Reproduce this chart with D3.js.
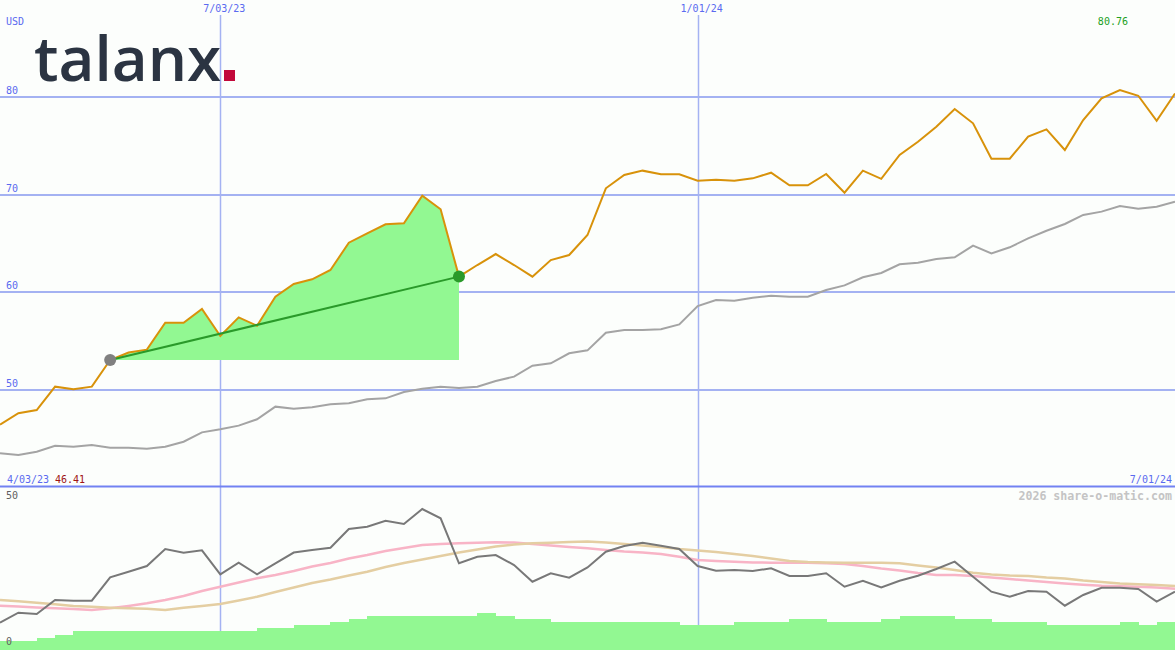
<!DOCTYPE html>
<html>
<head>
<meta charset="utf-8">
<script src="https://cdn.jsdelivr.net/npm/d3@7/dist/d3.min.js"></script>
<style>
  html, body { margin: 0; padding: 0; background: #fcfefc; }
  svg { display: block; }
</style>
</head>
<body>
<svg id="chart" width="1175" height="650"></svg>
<script>
// ---------- data ----------
const startDate = "2023-04-10";      // first weekly observation
const weeks = 65;
const price = [46.41,47.57,47.9,50.3,50.03,50.3,53.04,53.8,54.1,56.87,56.87,58.28,55.5,57.42,56.56,59.54,60.84,
  61.32,62.28,65.08,66.04,66.97,67.07,69.9,68.51,61.6,62.79,63.92,62.79,61.59,63.3,63.82,65.87,
  70.67,72.03,72.48,72.1,72.1,71.45,71.55,71.45,71.69,72.27,70.97,70.97,72.14,70.22,72.48,71.64,
  74.09,75.45,76.99,78.81,77.34,73.71,73.71,75.97,76.72,74.6,77.68,79.9,80.76,80.17,77.6,80.4];
const benchmark = [43.46,43.29,43.62,44.24,44.14,44.31,44.04,44.04,43.93,44.14,44.65,45.61,45.92,46.3,46.95,48.25,48.04,
  48.2,48.5,48.6,49.0,49.1,49.75,50.09,50.3,50.16,50.3,50.88,51.33,52.45,52.7,53.73,54.03,
  55.84,56.12,56.12,56.19,56.7,58.58,59.2,59.13,59.44,59.64,59.54,59.54,60.23,60.7,61.53,61.97,
  62.86,63.03,63.41,63.58,64.78,63.99,64.61,65.53,66.31,67.0,67.93,68.27,68.85,68.57,68.78,69.29];
const oscillator = [8.37,11.44,11.04,15.34,15.12,15.12,22.3,24.02,25.77,30.98,29.85,30.58,23.22,26.78,23.22,26.6,29.9,
  30.67,31.38,37.12,37.82,39.66,38.65,43.25,40.4,26.6,28.62,29.14,26.07,20.95,23.53,22.18,25.31,
  30.15,31.9,32.91,32.0,30.98,25.77,24.33,24.54,24.23,25.06,22.7,22.7,23.53,19.42,21.26,19.17,
  21.26,22.79,24.85,27.09,22.48,17.88,16.35,18.1,17.88,13.59,16.87,19.11,19.11,18.71,14.82,17.88];
const avgFast = [13.59,13.34,13.04,12.79,12.58,12.27,12.79,13.5,14.33,15.34,16.56,18.1,19.42,20.71,21.99,23.0,24.23,
  25.61,26.69,28.07,29.14,30.37,31.29,32.21,32.52,32.73,32.91,33.04,32.98,32.52,32.06,31.6,31.2,
  30.67,30.21,29.91,29.45,28.62,27.61,27.3,27.06,26.84,26.78,26.78,26.78,26.6,26.38,25.77,25.0,
  24.39,23.62,23.0,23.0,22.7,22.24,21.78,21.32,20.86,20.4,20.0,19.72,19.57,19.42,19.17,18.8];
const avgSlow = [15.34,14.94,14.51,14.02,13.5,13.25,12.98,12.82,12.67,12.27,12.98,13.5,14.11,15.18,16.35,17.79,19.17,
  20.55,21.63,22.85,24.02,25.46,26.69,27.76,28.83,29.91,30.83,31.75,32.36,32.73,32.88,33.13,33.28,
  32.98,32.52,32.06,31.6,30.98,30.52,30.06,29.45,28.83,28.07,27.3,26.99,26.84,26.78,26.78,26.78,
  26.6,25.92,25.31,24.54,23.71,23.16,22.85,22.7,22.24,21.93,21.32,20.86,20.4,20.15,19.94,19.63];
const volume = [2.76,2.76,3.6,4.6,5.83,5.83,5.83,5.83,5.83,5.83,5.83,5.83,5.83,5.83,6.84,6.84,7.67,
  7.67,8.59,9.51,10.43,10.43,10.43,10.43,10.43,10.43,11.35,10.43,9.51,9.51,8.59,8.59,8.59,
  8.59,8.59,8.59,8.59,7.67,7.67,7.67,8.59,8.59,8.59,9.51,9.51,8.59,8.59,8.59,9.51,
  10.43,10.43,10.43,9.51,9.51,8.59,8.59,8.59,7.67,7.67,7.67,7.67,8.59,7.67,8.59];
const priceTicks = [50, 60, 70, 80];
const dateTicks = ["2023-07-03", "2024-01-01"];
const dateTickLabels = ["7/03/23", "1/01/24"];
const rangeStart = 6, rangeEnd = 25;   // highlighted period (week indices)
const currency = "USD";
const firstLabel = "4/03/23", lastLabel = "7/01/24";
const maxLabel = "80.76", minLabel = "46.41";
const lowerTicks = ["50", "0"];
const credit = "2026 share-o-matic.com";
const brand = "talanx";

// ---------- setup ----------
const W = 1175, H = 650, splitY = 487;
const parse = d3.utcParse("%Y-%m-%d");
const t0 = parse(startDate);
const dates = d3.range(weeks).map(i => d3.utcWeek.offset(t0, i));
const svg = d3.select("#chart");
const mono = "'DejaVu Sans Mono', 'Liberation Mono', monospace";

const x = d3.scaleUtc().domain([dates[0], dates[weeks - 1]]).range([0, W]);
const y = d3.scaleLinear().domain([40, 90]).range([splitY, 0]);
const y2 = d3.scaleLinear().domain([0, 50]).range([H, splitY]);

svg.append("rect").attr("width", W).attr("height", H).attr("fill", "#fcfefc");

// horizontal gridlines
svg.append("g").selectAll("line").data(priceTicks).join("line")
  .attr("x1", 0).attr("x2", W)
  .attr("y1", d => Math.round(y(d))).attr("y2", d => Math.round(y(d)))
  .attr("stroke", "#a4b2f2").attr("stroke-width", 2);
svg.append("g").selectAll("text").data(priceTicks).join("text")
  .attr("x", 6).attr("y", d => Math.round(y(d)) - 3)
  .attr("font-family", mono).attr("font-size", 10).attr("fill", "#5a6af0")
  .text(d => d);

// vertical date lines (both panels)
const dt = dateTicks.map(parse);
svg.append("g").selectAll("line").data(dt).join("line")
  .attr("x1", d => Math.round(x(d)) + 0.5).attr("x2", d => Math.round(x(d)) + 0.5)
  .attr("y1", 15).attr("y2", H)
  .attr("stroke", "#a4b2f2").attr("stroke-width", 1.5);
svg.append("g").selectAll("text").data(dt).join("text")
  .attr("x", d => x(d) + 4).attr("y", 12)
  .attr("text-anchor", "middle")
  .attr("font-family", mono).attr("font-size", 10).attr("fill", "#5a6af0")
  .text((d, i) => dateTickLabels[i]);

// highlighted period area
const baseVal = price[rangeStart];
const seg = d3.range(rangeStart, rangeEnd + 1);
svg.append("path")
  .attr("d", d3.area().x(i => x(dates[i])).y0(y(baseVal)).y1(i => y(price[i]))(seg))
  .attr("fill", "#92f892");

// benchmark line
svg.append("path")
  .attr("d", d3.line().x((d, i) => x(dates[i])).y(d => y(d))(benchmark))
  .attr("fill", "none").attr("stroke", "#a4a4a4").attr("stroke-width", 2);

// price line
svg.append("path")
  .attr("d", d3.line().x((d, i) => x(dates[i])).y(d => y(d))(price))
  .attr("fill", "none").attr("stroke", "#d8920a").attr("stroke-width", 2);

// trend line
svg.append("line")
  .attr("x1", x(dates[rangeStart])).attr("y1", y(price[rangeStart]))
  .attr("x2", x(dates[rangeEnd])).attr("y2", y(price[rangeEnd]))
  .attr("stroke", "#2a9a2a").attr("stroke-width", 2);
svg.append("circle").attr("cx", x(dates[rangeStart])).attr("cy", y(price[rangeStart]))
  .attr("r", 6).attr("fill", "#808080");
svg.append("circle").attr("cx", x(dates[rangeEnd])).attr("cy", y(price[rangeEnd]))
  .attr("r", 6).attr("fill", "#2a9a2a");

// logo
svg.append("text").attr("x", 34).attr("y", 81)
  .attr("font-family", "'Open Sans', sans-serif").attr("font-weight", 600)
  .attr("font-size", 62).attr("fill", "#2b3442")
  .text(brand);
svg.append("rect").attr("x", 224).attr("y", 70).attr("width", 11).attr("height", 11).attr("fill", "#c2083a");

// labels
svg.append("text").attr("x", 6).attr("y", 25).attr("font-family", mono).attr("font-size", 10)
  .attr("fill", "#5a6af0").text(currency);
const maxI = d3.maxIndex(price);
svg.append("text").attr("x", x(dates[maxI]) - 7).attr("y", 25).attr("text-anchor", "middle")
  .attr("font-family", mono).attr("font-size", 10).attr("fill", "#22a022").text(maxLabel);
svg.append("text").attr("x", 7).attr("y", 483).attr("font-family", mono).attr("font-size", 10)
  .attr("fill", "#5a6af0").text(firstLabel);
svg.append("text").attr("x", 55).attr("y", 483).attr("font-family", mono).attr("font-size", 10)
  .attr("fill", "#a01414").text(minLabel);
svg.append("text").attr("x", 1172).attr("y", 483).attr("text-anchor", "end").attr("font-family", mono)
  .attr("font-size", 10).attr("fill", "#5a6af0").text(lastLabel);

// divider
svg.append("line").attr("x1", 0).attr("x2", W).attr("y1", splitY - 0.5).attr("y2", splitY - 0.5)
  .attr("stroke", "#7282f2").attr("stroke-width", 2);

// ---------- lower panel ----------
svg.append("g").selectAll("rect").data(volume).join("rect")
  .attr("x", (d, i) => x(dates[i]))
  .attr("width", (d, i) => x(dates[i + 1]) - x(dates[i]) + 0.5)
  .attr("y", d => y2(d)).attr("height", d => H - y2(d))
  .attr("fill", "#92f892").attr("shape-rendering", "crispEdges");

const lineLow = d3.line().x((d, i) => x(dates[i])).y(d => y2(d));
svg.append("path").attr("d", lineLow(avgFast)).attr("fill", "none")
  .attr("stroke", "#f8b4c6").attr("stroke-width", 2.5);
svg.append("path").attr("d", lineLow(avgSlow)).attr("fill", "none")
  .attr("stroke", "#e4cea2").attr("stroke-width", 2.5);
svg.append("path").attr("d", lineLow(oscillator)).attr("fill", "none")
  .attr("stroke", "#787878").attr("stroke-width", 2);

svg.append("text").attr("x", 6).attr("y", 499).attr("font-family", mono).attr("font-size", 10)
  .attr("fill", "#606060").text(lowerTicks[0]);
svg.append("text").attr("x", 6).attr("y", 645).attr("font-family", mono).attr("font-size", 10)
  .attr("fill", "#606060").text(lowerTicks[1]);
svg.append("text").attr("x", 1172).attr("y", 500).attr("text-anchor", "end")
  .attr("font-family", mono).attr("font-size", 11.6).attr("font-weight", "bold")
  .attr("fill", "#c4c4c4").text(credit);
</script>
</body>
</html>
